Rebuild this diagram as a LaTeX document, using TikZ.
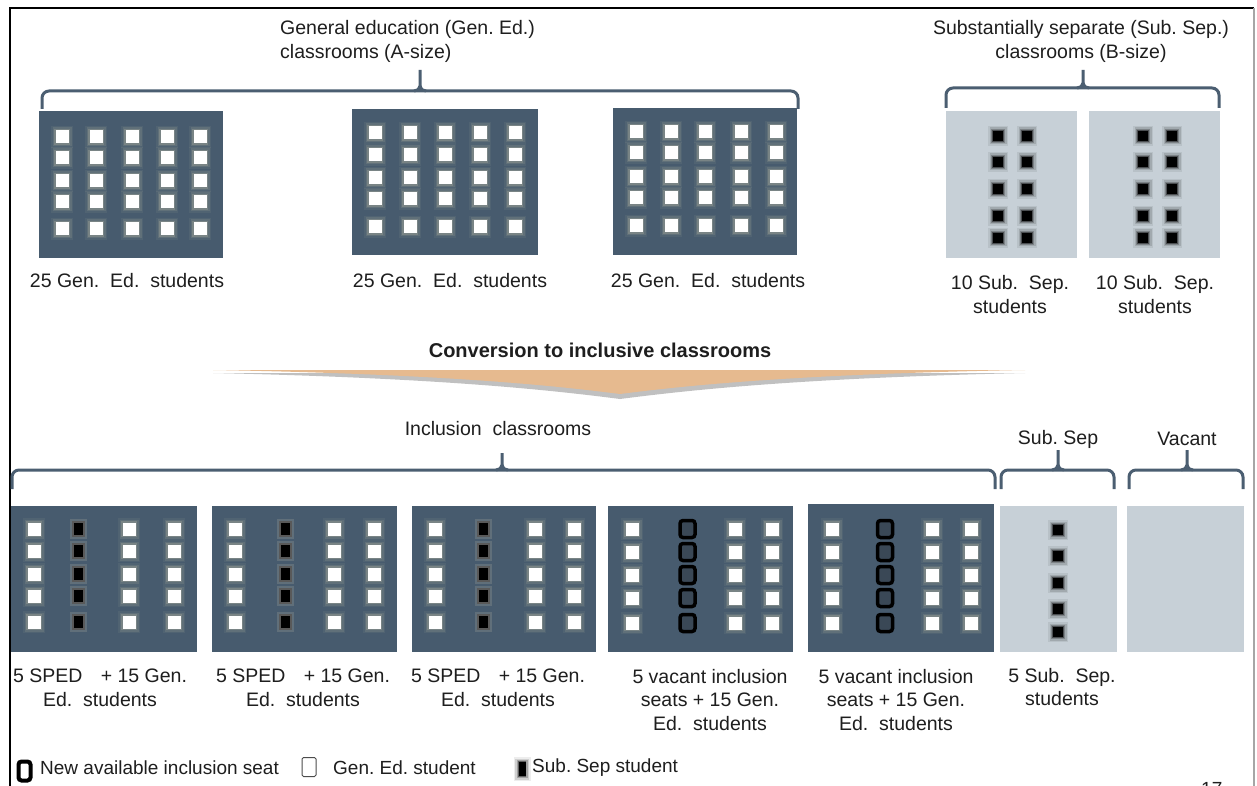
\documentclass[tikz,border=0pt]{standalone}
\usepackage{fontspec}
\setmainfont{Liberation Sans}
\definecolor{slate}{HTML}{475B6E}
\definecolor{paleroom}{HTML}{C7D0D7}
\definecolor{brk}{HTML}{4B5E71}
\definecolor{glowc}{HTML}{EFE3C0}
\definecolor{tanc}{HTML}{E6BA8F}
\definecolor{seatfill}{HTML}{3A4856}
\definecolor{txt}{HTML}{1E1E1E}
\pgfdeclarehorizontalshading{chevfill}{100bp}{color(0bp)=(white); color(22bp)=(tanc); color(78bp)=(tanc); color(100bp)=(white)}
\pgfdeclarehorizontalshading{chevshadow}{100bp}{color(0bp)=(white); color(25bp)=(black!35); color(75bp)=(black!35); color(100bp)=(white)}
% group bracket: x0, x1, xc, y of bar, y of tick top, y of ends
\newcommand\grpbracket[6]{%
  \draw[bracket, rounded corners=7pt] (#1,#6) |- (#2,#4) -- (#2,#6);
  \draw[bracket] (#3-6,#4) to[out=0,in=-90] (#3,#4-5) -- (#3,#5);
  \draw[bracket] (#3+6,#4) to[out=180,in=-90] (#3,#4-5);}
\tikzset{
  room/.style={fill=slate, draw=none, inner sep=0, anchor=north west},
  paleroomst/.style={fill=paleroom, draw=none, inner sep=0, anchor=north west},
  gseat/.style={minimum size=13, inner sep=0, fill=white,
    preaction={draw=glowc, line width=9, opacity=.06},
    preaction={draw=glowc, line width=6, opacity=.10},
    preaction={draw=glowc, line width=3, opacity=.18}},
  sepseat/.style={minimum width=10, minimum height=10, inner sep=0, fill=black,
    preaction={draw=black, line width=10, opacity=.07},
    preaction={draw=black, line width=7, opacity=.12},
    preaction={draw=black, line width=4, opacity=.22},
    preaction={draw=black, line width=1.5, opacity=.4}},
  spedseat/.style={minimum width=11, minimum height=14, inner sep=0, fill=black,
    draw=gray!70!black, line width=2,
    preaction={draw=glowc, line width=6, opacity=.15}},
  newseat/.style={minimum width=15, minimum height=17, inner sep=0, rounded corners=3,
    draw=black, line width=3.5, fill=seatfill},
  bracket/.style={draw=brk, line width=3},
  lbl/.style={font=\fontsize{19.5}{23.5}\selectfont\frenchspacing, text=txt, inner sep=0, align=center},
  lgd/.style={font=\fontsize{19}{23}\selectfont\frenchspacing, text=txt, inner sep=0, anchor=west},
}
\begin{document}
\begin{tikzpicture}[x=1pt, y=-1pt]
\useasboundingbox (0,0) rectangle (1257,786);
\fill[white] (0,0) rectangle (1257,786);
% page frame
\draw[black, line width=2] (10,786) -- (10,8) -- (1254,8);
\draw[gray!70, line width=2] (1254,8) -- (1254,786);

% ---------- upper row: existing classrooms ----------
\node[lbl, anchor=west, align=left] (tge) at (280,41.5) {General education (Gen. Ed.)\\classrooms (A-size)};
\node[lbl] (tss) at (1081,41.5) {Substantially separate (Sub. Sep.)\\classrooms (B-size)};
\grpbracket{42}{798}{420}{91}{70}{109}
\grpbracket{946}{1219}{1083}{88}{70}{108}

\node[room, minimum width=184, minimum height=147] (ge1) at (39,111) {};
\node[room, minimum width=186, minimum height=146] (ge2) at (352,109) {};
\node[room, minimum width=184, minimum height=147] (ge3) at (613,108) {};
\foreach \cx in {62,96,132,167,200} \foreach \cy in {137,158,181,202,229}
  \node[gseat] (a\cx-\cy) at (\cx,\cy) {};
\foreach \cx in {375,410,445,480,515} \foreach \cy in {133,155,178,199,227}
  \node[gseat] (b\cx-\cy) at (\cx,\cy) {};
\foreach \cx in {636,671,705,741,776} \foreach \cy in {132,153,177,198,226}
  \node[gseat] (c\cx-\cy) at (\cx,\cy) {};

\node[paleroomst, minimum width=131, minimum height=147] (ss1) at (946,111) {};
\node[paleroomst, minimum width=131, minimum height=147] (ss2) at (1089,111) {};
\foreach \cx in {998,1027,1143,1172} \foreach \cy in {136,162,189,216,238}
  \node[sepseat] (d\cx-\cy) at (\cx,\cy) {};

\node[lbl] (lge1) at (127,281) {25 Gen.\ \ Ed.\ \ students};
\node[lbl] (lge2) at (450,281) {25 Gen.\ \ Ed.\ \ students};
\node[lbl] (lge3) at (708,281) {25 Gen.\ \ Ed.\ \ students};
\node[lbl] (lss1) at (1010,294.5) {10 Sub.\ \ Sep.\\students};
\node[lbl] (lss2) at (1155,294.5) {10 Sub.\ \ Sep.\\students};

% ---------- conversion chevron ----------
\node[lbl, font=\fontsize{20}{24}\selectfont\bfseries] (conv) at (600,350) {Conversion to inclusive classrooms};
\shade[shading=chevshadow, opacity=.7] (213,373) -- (1025,373) .. controls (800,378) and (690,390) .. (620,399) .. controls (550,390) and (440,378) .. cycle;
\shade[shading=chevfill] (213,370) -- (1025,370) .. controls (800,374) and (690,385) .. (620,394) .. controls (550,385) and (440,374) .. cycle;

% ---------- lower row: after conversion ----------
\node[lbl] (tin) at (498,429) {Inclusion\ \ classrooms};
\node[lbl] (tsb) at (1058,439) {Sub. Sep};
\node[lbl] (tva) at (1187,439) {Vacant};
\grpbracket{12}{995}{502}{470}{453}{489}
\grpbracket{1001}{1114}{1058}{470}{450}{489}
\grpbracket{1129}{1243}{1187}{470}{450}{489}

\node[room, minimum width=186, minimum height=146] (in1) at (11,506) {};
\node[room, minimum width=185, minimum height=146] (in2) at (212,506) {};
\node[room, minimum width=184, minimum height=146] (in3) at (412,506) {};
\node[room, minimum width=185, minimum height=146] (in4) at (608,506) {};
\node[room, minimum width=186, minimum height=148] (in5) at (808,504) {};
\node[paleroomst, minimum width=117, minimum height=146] (sbr) at (1000,506) {};
\node[paleroomst, minimum width=117, minimum height=146] (var) at (1127,506) {};

\foreach \cx in {34,129,174,235,334,374,435,535,574} \foreach \cy in {529,551,574,596,622}
  \node[gseat] (e\cx-\cy) at (\cx,\cy) {};
\foreach \cx in {78,285,483} \foreach \cy in {529,551,574,596,622}
  \node[spedseat] (f\cx-\cy) at (\cx,\cy) {};
\foreach \cx in {632,735,772,832,932,971} \foreach \cy in {529,552,575,598,623}
  \node[gseat] (g\cx-\cy) at (\cx,\cy) {};
\foreach \cx in {687.5,885} \foreach \cy in {529,552,575,598,623}
  \node[newseat] (h\cx-\cy) at (\cx,\cy) {};
\foreach \cy in {530,556,583,609,632}
  \node[sepseat] (k\cy) at (1058,\cy) {};

\node[lbl] (lin1) at (100,688) {5 SPED\hspace{13pt} + 15 Gen.\\Ed.\ \ students};
\node[lbl] (lin2) at (303,688) {5 SPED\hspace{13pt} + 15 Gen.\\Ed.\ \ students};
\node[lbl] (lin3) at (498,688) {5 SPED\hspace{13pt} + 15 Gen.\\Ed.\ \ students};
\node[lbl] (lin4) at (710,700) {5 vacant inclusion\\seats + 15 Gen.\\Ed.\ \ students};
\node[lbl] (lin5) at (896,700) {5 vacant inclusion\\seats + 15 Gen.\\Ed.\ \ students};
\node[lbl] (lsb) at (1062,687) {5 Sub.\ \ Sep.\\students};

% ---------- legend ----------
\node[draw=black, line width=4, rounded corners=3, fill=white, minimum width=12, minimum height=19, inner sep=0] (lgnew) at (24.5,771) {};
\node[lgd] (lgnewt) at (40,768) {New available inclusion seat};
\node[draw=gray!60!black, line width=1, fill=white, rounded corners=1.5, minimum width=14, minimum height=19, inner sep=0] (lggen) at (309,767) {};
\node[lgd] (lggent) at (333,768) {Gen. Ed. student};
\node[sepseat, minimum width=7, minimum height=14] (lgsep) at (522,769) {};
\node[lgd] (lgsept) at (532,768) {Sub. Sep student};

% page number, mostly below the page edge
\node[lgd, anchor=north west] (pgno) at (1201,782) {17};
\end{tikzpicture}
\end{document}
